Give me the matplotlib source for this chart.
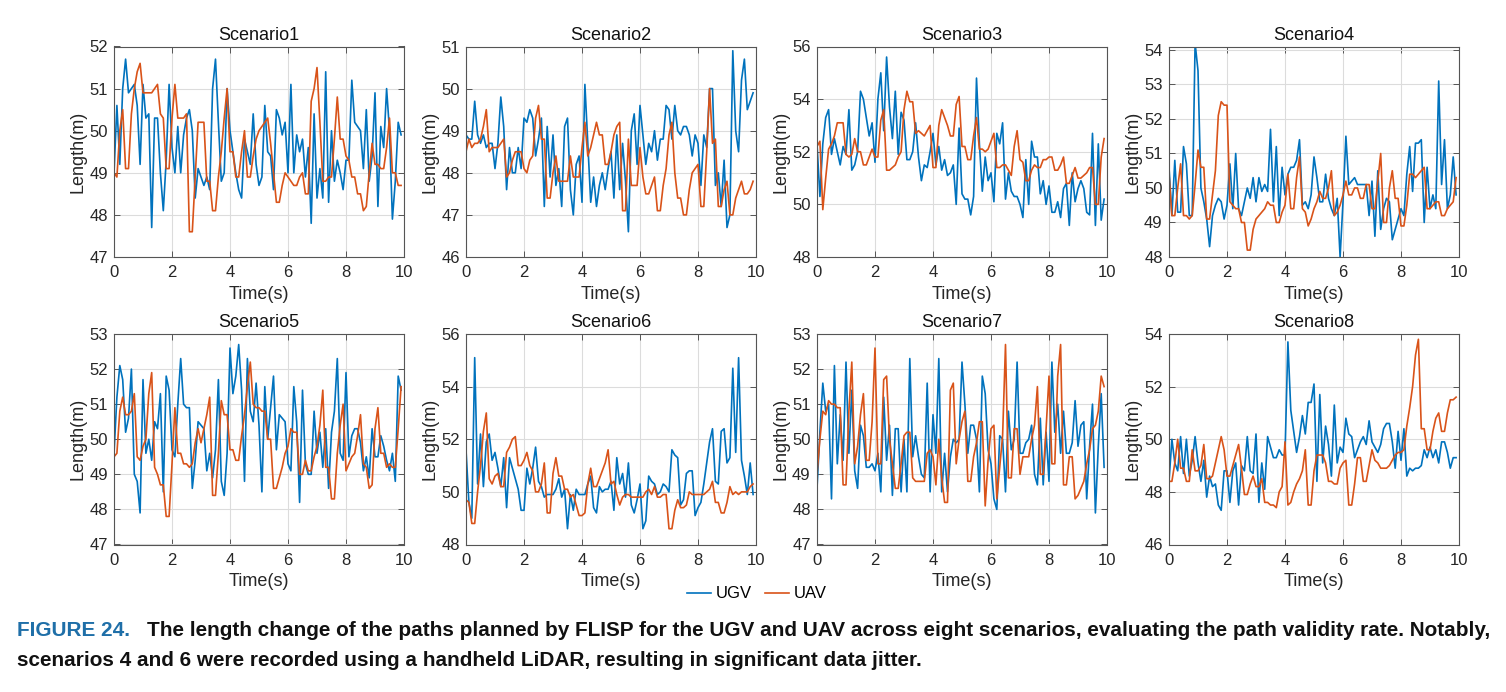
# -*- coding: utf-8 -*-
import numpy as np
import matplotlib
matplotlib.use('Agg')
import matplotlib.pyplot as plt

# path length (m) of UGV / UAV, sampled every 0.1 s
ugv_s1 = [49.0, 50.6, 49.2, 51.0, 51.7, 50.9, 51.0, 51.1, 50.6, 49.2,
          51.1, 50.3, 50.4, 47.7, 50.3, 50.3, 49.0, 48.1, 49.3, 51.1,
          49.6, 49.0, 50.1, 49.0, 49.9, 50.3, 50.5, 50.0, 48.4, 49.1,
          48.9, 48.7, 48.9, 48.6, 51.0, 51.7, 50.2, 48.8, 49.0, 51.0,
          50.0, 49.5, 49.0, 48.6, 48.4, 49.8, 49.5, 49.2, 50.4, 49.2,
          48.7, 48.9, 50.6, 49.5, 49.4, 48.6, 50.5, 50.3, 49.9, 50.2,
          49.0, 51.1, 49.0, 49.9, 49.5, 49.8, 48.9, 49.6, 47.8, 50.4,
          48.4, 49.1, 48.4, 51.4, 48.3, 50.0, 48.8, 49.3, 49.0, 48.6,
          49.3, 49.3, 51.2, 50.2, 50.1, 50.0, 49.1, 50.5, 48.8, 49.4,
          50.9, 48.2, 50.1, 49.6, 51.0, 50.0, 47.9, 48.8, 50.2, 49.9]
uav_s1 = [49.0, 48.9, 50.0, 50.5, 49.1, 49.1, 50.4, 51.0, 51.4, 51.6,
          50.9, 50.9, 50.9, 50.9, 51.0, 51.1, 50.4, 50.3, 49.1, 49.1,
          50.3, 51.1, 50.3, 50.3, 50.3, 50.4, 47.6, 47.6, 48.9, 50.2,
          50.2, 50.2, 48.8, 48.8, 48.1, 48.1, 48.9, 49.5, 50.3, 51.0,
          49.5, 49.5, 48.9, 48.9, 49.5, 50.0, 48.9, 48.9, 49.4, 49.8,
          50.0, 50.1, 50.2, 50.3, 49.7, 49.0, 48.3, 48.3, 48.7, 49.0,
          48.9, 48.8, 48.7, 48.7, 48.9, 49.0, 48.5, 48.5, 50.7, 51.0,
          51.5, 50.2, 48.8, 48.8, 48.9, 48.9, 49.8, 50.8, 49.8, 49.8,
          49.4, 49.3, 48.9, 48.9, 48.5, 48.5, 48.1, 48.2, 49.0, 49.7,
          49.2, 49.2, 49.1, 49.1, 49.6, 50.3, 49.0, 49.0, 48.7, 48.7]

ugv_s2 = [48.9, 48.8, 48.8, 49.7, 48.9, 48.7, 48.9, 48.6, 48.7, 48.7,
          48.1, 48.7, 49.8, 49.1, 47.6, 48.6, 48.0, 48.0, 48.6, 48.1,
          49.3, 49.2, 49.5, 49.3, 48.4, 48.8, 49.3, 47.2, 49.1, 47.9,
          48.9, 47.7, 48.1, 47.2, 49.1, 49.3, 47.6, 47.0, 48.2, 48.4,
          47.3, 50.1, 48.7, 47.3, 47.9, 47.2, 47.7, 48.0, 47.6, 48.1,
          48.5, 47.4, 48.9, 47.6, 48.7, 47.8, 46.6, 49.0, 49.4, 48.2,
          49.6, 48.9, 48.2, 48.7, 48.5, 49.0, 48.3, 48.8, 48.8, 49.6,
          49.5, 48.8, 49.6, 49.0, 48.9, 49.1, 49.1, 48.9, 48.4, 48.9,
          48.7, 47.7, 48.9, 48.6, 50.0, 50.0, 47.7, 48.0, 47.2, 48.3,
          46.7, 47.0, 50.9, 49.0, 48.5, 50.2, 50.7, 49.5, 49.7, 49.9]
uav_s2 = [48.5, 48.8, 48.6, 48.7, 48.7, 48.8, 49.1, 49.5, 48.5, 48.6,
          48.6, 48.6, 48.7, 48.8, 47.9, 48.0, 48.3, 48.5, 48.5, 48.5,
          48.1, 48.0, 48.3, 48.4, 49.3, 49.6, 48.8, 48.8, 47.4, 47.4,
          48.0, 48.4, 47.8, 47.8, 47.8, 47.8, 48.4, 47.9, 47.9, 47.9,
          48.6, 49.2, 48.4, 48.6, 48.9, 49.2, 48.9, 48.9, 48.2, 48.2,
          48.5, 48.9, 49.1, 49.2, 47.1, 47.1, 48.8, 47.7, 47.7, 47.7,
          48.6, 47.9, 47.5, 47.5, 47.7, 47.9, 47.1, 47.1, 47.7, 48.1,
          48.9, 49.2, 48.0, 47.4, 47.4, 47.0, 47.0, 47.6, 48.0, 48.1,
          48.2, 47.2, 47.2, 48.5, 50.0, 48.7, 48.8, 47.2, 47.2, 47.6,
          47.8, 47.0, 47.0, 47.4, 47.6, 47.8, 47.5, 47.5, 47.6, 47.8]

ugv_s3 = [52.3, 50.3, 52.3, 53.3, 53.6, 51.9, 52.5, 52.0, 51.5, 52.2,
          51.9, 53.6, 51.3, 51.5, 52.0, 54.3, 54.0, 53.3, 52.6, 53.1,
          51.6, 54.0, 55.0, 52.8, 55.6, 53.7, 52.5, 54.3, 51.9, 53.5,
          53.2, 51.7, 51.7, 52.0, 53.1, 51.8, 50.9, 51.5, 51.4, 52.0,
          52.7, 51.5, 52.2, 51.3, 51.7, 51.1, 51.2, 51.5, 50.0, 52.9,
          50.4, 50.2, 50.2, 49.6, 50.3, 54.8, 52.3, 50.5, 51.8, 50.9,
          51.2, 50.1, 52.7, 52.3, 53.1, 50.2, 51.2, 50.5, 50.3, 50.3,
          50.0, 49.5, 51.7, 50.0, 52.4, 51.8, 51.8, 50.4, 50.9, 50.0,
          50.7, 49.7, 49.7, 50.1, 49.5, 50.6, 50.8, 49.2, 51.2, 50.1,
          50.6, 50.9, 50.6, 49.7, 49.6, 52.7, 49.2, 52.3, 49.4, 50.2]
uav_s3 = [52.2, 52.4, 49.8, 51.0, 52.1, 52.3, 52.6, 53.1, 53.1, 53.1,
          51.9, 51.8, 51.9, 52.5, 52.0, 52.0, 51.5, 51.5, 51.8, 52.1,
          51.8, 51.8, 53.2, 53.6, 51.3, 51.3, 51.4, 51.5, 51.8, 52.0,
          53.6, 54.3, 53.9, 53.9, 52.7, 52.8, 52.7, 52.6, 52.8, 53.0,
          51.4, 51.4, 53.0, 53.6, 53.3, 53.0, 52.6, 52.6, 53.8, 54.1,
          52.2, 52.2, 51.7, 51.7, 52.6, 53.3, 52.1, 52.1, 52.0, 52.1,
          52.4, 52.7, 51.4, 51.4, 51.5, 51.5, 51.3, 51.1, 52.2, 52.8,
          51.7, 51.6, 50.9, 50.9, 51.3, 51.5, 51.4, 51.4, 51.7, 51.7,
          51.8, 51.8, 51.3, 51.3, 51.5, 51.8, 50.8, 50.8, 51.1, 51.4,
          51.0, 51.0, 51.1, 51.2, 51.4, 51.4, 50.0, 50.0, 51.8, 52.5]

ugv_s4 = [50.6, 49.2, 50.8, 49.3, 49.3, 51.2, 50.7, 49.2, 49.2, 54.2,
          53.4, 50.0, 49.6, 49.1, 48.3, 49.2, 49.5, 49.7, 49.6, 49.1,
          49.5, 50.7, 49.4, 51.0, 49.4, 49.2, 49.6, 50.0, 49.7, 50.3,
          49.6, 50.3, 49.9, 50.1, 49.9, 51.7, 49.6, 51.2, 49.2, 50.6,
          49.8, 50.4, 50.6, 50.6, 50.8, 51.4, 49.5, 49.6, 49.4, 49.8,
          50.9, 50.3, 49.6, 49.6, 50.4, 49.7, 49.4, 49.2, 49.7, 48.0,
          49.6, 51.5, 50.1, 50.2, 50.3, 50.1, 50.1, 50.1, 50.1, 49.2,
          50.2, 48.6, 50.5, 48.8, 49.4, 49.7, 49.6, 48.5, 48.8, 49.1,
          49.4, 49.2, 50.4, 51.2, 49.9, 51.3, 51.3, 51.4, 49.0, 50.6,
          49.4, 49.8, 49.4, 53.1, 50.1, 51.4, 49.4, 49.8, 50.9, 49.8]
uav_s4 = [50.4, 49.2, 49.2, 50.0, 50.7, 49.2, 49.2, 49.1, 49.2, 50.1,
          51.1, 50.6, 50.6, 49.1, 49.1, 49.8, 50.5, 52.1, 52.5, 52.4,
          52.4, 49.6, 49.5, 49.4, 49.4, 49.0, 49.0, 48.2, 48.2, 48.8,
          49.1, 49.2, 49.3, 49.4, 49.6, 49.5, 49.5, 49.0, 49.0, 49.3,
          49.5, 50.4, 49.4, 49.4, 50.3, 50.9, 49.4, 49.3, 48.9, 49.1,
          49.4, 49.6, 49.9, 49.7, 49.7, 50.0, 50.5, 49.2, 49.3, 49.5,
          49.8, 50.2, 49.8, 49.8, 50.0, 50.0, 49.7, 49.7, 50.1, 50.1,
          49.4, 49.4, 50.2, 51.0, 49.0, 49.0, 50.0, 50.5, 49.7, 49.7,
          48.9, 48.9, 49.5, 50.4, 50.4, 50.3, 50.4, 50.5, 50.6, 49.4,
          49.4, 49.5, 49.6, 49.6, 49.2, 49.2, 49.4, 49.5, 49.6, 50.3]

ugv_s5 = [49.6, 51.2, 52.1, 51.7, 50.2, 50.6, 52.0, 49.0, 48.8, 47.9,
          51.7, 49.6, 50.0, 49.4, 50.5, 50.3, 51.3, 48.5, 51.8, 51.4,
          49.7, 49.5, 51.0, 52.3, 51.0, 50.9, 50.9, 48.6, 49.4, 50.5,
          50.4, 50.3, 49.1, 49.6, 48.9, 49.7, 51.7, 48.8, 48.4, 49.6,
          52.6, 51.3, 51.8, 52.7, 51.4, 48.8, 52.3, 50.8, 50.5, 51.6,
          50.4, 48.5, 51.5, 50.0, 50.9, 51.8, 49.7, 50.7, 50.6, 50.5,
          49.3, 49.1, 51.5, 50.5, 48.2, 51.4, 49.3, 49.0, 49.0, 50.8,
          49.6, 50.2, 49.2, 50.3, 48.6, 50.2, 50.8, 52.3, 49.6, 49.4,
          51.9, 49.5, 50.1, 50.3, 50.3, 49.9, 49.1, 49.5, 48.9, 50.3,
          49.5, 49.5, 50.1, 49.8, 49.4, 49.1, 49.6, 48.8, 51.8, 51.4]
uav_s5 = [49.5, 49.6, 50.8, 51.2, 50.7, 50.7, 50.8, 51.3, 49.5, 49.4,
          49.8, 50.0, 51.3, 51.9, 49.2, 49.0, 48.7, 48.7, 47.8, 47.8,
          49.3, 50.9, 49.6, 49.6, 49.3, 49.3, 49.2, 49.3, 49.9, 50.3,
          49.9, 50.3, 50.7, 51.2, 48.4, 48.4, 49.6, 51.1, 50.7, 50.7,
          49.7, 49.7, 49.4, 49.4, 50.1, 50.7, 51.5, 52.2, 51.0, 50.9,
          50.9, 50.8, 50.8, 50.0, 50.0, 48.6, 48.6, 48.9, 49.2, 49.6,
          49.8, 50.3, 50.2, 50.2, 49.0, 49.0, 49.4, 49.1, 49.1, 49.5,
          49.8, 50.4, 51.4, 49.2, 49.2, 48.3, 48.3, 49.6, 50.4, 51.0,
          49.1, 49.3, 49.5, 49.6, 50.1, 50.7, 49.3, 49.2, 48.6, 48.7,
          50.3, 50.9, 49.6, 49.6, 49.2, 49.3, 49.2, 49.2, 50.3, 51.5]

ugv_s6 = [51.6, 49.6, 49.0, 55.1, 50.3, 52.2, 50.2, 51.9, 52.2, 51.2,
          51.5, 50.9, 50.2, 51.3, 49.4, 51.3, 50.9, 50.5, 50.1, 49.3,
          49.3, 50.9, 50.3, 50.9, 51.7, 50.4, 50.2, 49.8, 49.9, 49.9,
          49.9, 50.1, 50.5, 49.8, 50.1, 48.6, 49.9, 49.3, 50.1, 49.9,
          49.9, 49.9, 50.3, 50.6, 49.4, 49.2, 50.2, 50.0, 50.1, 50.1,
          50.4, 49.3, 51.3, 50.3, 50.7, 49.8, 51.1, 49.5, 49.2, 49.7,
          50.3, 48.6, 48.9, 50.6, 50.4, 50.3, 49.9, 50.0, 50.3, 50.2,
          50.0, 51.6, 51.4, 51.3, 49.5, 49.7, 50.7, 50.8, 50.8, 49.1,
          49.4, 49.6, 50.3, 51.1, 51.9, 52.4, 50.4, 50.3, 52.3, 52.4,
          51.1, 51.3, 54.7, 51.5, 55.1, 51.2, 50.6, 49.9, 51.1, 49.9]
uav_s6 = [49.7, 49.6, 48.8, 48.8, 50.0, 51.0, 52.3, 53.0, 50.5, 50.3,
          50.6, 50.7, 50.2, 50.2, 51.5, 51.7, 52.0, 52.1, 51.0, 51.0,
          51.2, 51.5, 51.0, 50.8, 50.0, 50.0, 50.3, 51.1, 49.2, 49.2,
          50.7, 51.3, 50.6, 50.6, 50.1, 50.1, 49.8, 49.9, 49.5, 49.1,
          49.1, 49.2, 50.3, 50.9, 50.2, 50.2, 50.5, 50.8, 51.1, 51.6,
          50.3, 50.4, 49.9, 49.5, 49.8, 49.9, 49.9, 49.8, 49.8, 49.8,
          49.8, 49.8, 50.0, 50.1, 49.9, 50.2, 49.8, 49.8, 49.9, 49.9,
          48.6, 48.6, 49.3, 49.7, 49.4, 49.4, 49.5, 50.0, 49.9, 49.9,
          49.9, 49.9, 49.9, 50.0, 50.1, 50.4, 49.6, 49.6, 49.2, 49.2,
          49.6, 50.2, 49.9, 50.0, 49.9, 50.0, 50.0, 50.0, 50.2, 50.3]

ugv_s7 = [48.6, 50.2, 51.6, 50.8, 51.0, 48.3, 52.1, 49.3, 50.7, 49.4,
          52.2, 49.6, 51.4, 49.1, 48.6, 50.4, 50.1, 49.2, 49.2, 49.3,
          49.1, 49.6, 48.5, 51.2, 49.4, 50.4, 48.4, 50.3, 50.3, 48.5,
          50.0, 48.5, 52.3, 49.5, 50.1, 49.5, 49.0, 48.9, 51.6, 48.5,
          50.7, 49.6, 52.3, 48.5, 49.6, 48.5, 49.5, 50.0, 49.9, 50.0,
          52.2, 51.0, 49.6, 50.4, 50.4, 50.0, 48.5, 51.8, 51.3, 49.7,
          49.3, 48.3, 48.0, 50.1, 50.0, 48.5, 50.8, 49.7, 50.0, 52.2,
          49.6, 49.6, 49.9, 50.0, 50.4, 49.0, 48.7, 50.6, 48.7, 50.2,
          48.8, 52.2, 50.2, 51.0, 49.6, 50.8, 49.6, 49.6, 49.9, 51.1,
          49.8, 50.4, 50.5, 48.3, 49.8, 51.0, 47.9, 49.8, 51.3, 49.2]
uav_s7 = [49.0, 50.0, 50.8, 50.7, 51.1, 51.0, 51.0, 50.9, 50.9, 48.7,
          48.7, 50.8, 52.2, 49.3, 49.8, 50.7, 51.3, 49.4, 49.4, 50.5,
          52.6, 49.3, 49.3, 51.7, 51.8, 50.0, 49.3, 48.6, 48.6, 49.3,
          50.1, 50.2, 50.2, 48.9, 48.8, 48.8, 48.8, 48.8, 49.6, 49.7,
          49.5, 48.7, 50.0, 48.9, 48.2, 48.2, 51.4, 51.6, 49.3, 50.0,
          50.5, 50.8, 48.8, 48.8, 49.5, 49.9, 50.5, 50.5, 48.1, 49.4,
          50.3, 50.4, 48.3, 49.2, 50.1, 52.7, 48.9, 48.9, 50.3, 50.3,
          49.0, 49.5, 49.5, 49.5, 50.0, 50.4, 51.5, 49.0, 49.0, 50.3,
          51.8, 49.3, 49.3, 51.8, 52.7, 48.7, 48.7, 49.5, 49.5, 48.3,
          48.4, 48.6, 48.8, 49.3, 49.7, 50.3, 50.4, 50.8, 51.8, 51.5]

ugv_s8 = [48.4, 50.0, 49.1, 48.8, 50.1, 48.7, 50.0, 48.6, 49.2, 50.1,
          49.1, 48.4, 49.2, 47.8, 48.6, 48.2, 48.3, 47.5, 47.3, 48.8,
          48.8, 47.6, 48.8, 49.1, 47.5, 49.0, 48.8, 50.1, 48.8, 48.7,
          50.2, 47.6, 49.1, 48.1, 50.1, 49.7, 49.3, 49.3, 49.6, 49.4,
          49.4, 53.7, 51.1, 50.3, 49.5, 50.1, 50.9, 50.2, 51.4, 51.4,
          52.1, 48.4, 51.7, 49.1, 50.5, 49.8, 48.6, 51.3, 49.1, 49.7,
          49.5, 50.8, 50.2, 50.1, 49.3, 49.6, 49.9, 50.1, 49.8, 50.7,
          49.9, 49.7, 49.5, 49.8, 50.4, 50.6, 50.6, 49.9, 48.9, 50.3,
          49.2, 50.4, 48.6, 48.9, 48.8, 48.9, 48.9, 49.0, 49.6, 49.3,
          49.7, 49.3, 49.6, 49.1, 49.9, 49.9, 49.5, 48.9, 49.3, 49.3]
uav_s8 = [48.4, 48.4, 49.1, 50.0, 48.9, 48.9, 48.4, 48.4, 49.6, 48.8,
          48.8, 49.0, 49.8, 48.5, 48.5, 48.6, 49.1, 49.6, 50.1, 49.6,
          48.6, 48.6, 49.0, 49.4, 49.8, 48.9, 47.9, 47.9, 48.3, 48.6,
          48.2, 48.2, 48.5, 47.6, 47.6, 47.5, 47.5, 47.4, 48.0, 48.2,
          49.9, 47.5, 47.6, 48.0, 48.3, 48.5, 48.8, 49.6, 47.5, 47.5,
          48.8, 49.4, 49.4, 49.4, 49.1, 48.4, 48.4, 48.3, 48.3, 48.9,
          49.1, 49.2, 47.5, 47.5, 48.3, 49.3, 49.3, 48.4, 48.4, 49.0,
          49.6, 49.2, 49.1, 48.9, 48.9, 48.9, 49.0, 49.2, 49.4, 49.5,
          49.5, 49.6, 50.5, 51.2, 52.0, 53.2, 53.8, 50.4, 50.4, 49.6,
          49.6, 50.3, 50.8, 51.0, 50.3, 50.3, 51.0, 51.5, 51.5, 51.6]

titles = ['Scenario1', 'Scenario2', 'Scenario3', 'Scenario4',
          'Scenario5', 'Scenario6', 'Scenario7', 'Scenario8']
ugv_all = [ugv_s1, ugv_s2, ugv_s3, ugv_s4, ugv_s5, ugv_s6, ugv_s7, ugv_s8]
uav_all = [uav_s1, uav_s2, uav_s3, uav_s4, uav_s5, uav_s6, uav_s7, uav_s8]
ylims = [(47, 52), (46, 51), (48, 56), (48, 54.1),
         (47, 53), (48, 56), (47, 53), (46, 54)]
yticks = [[47, 48, 49, 50, 51, 52], [46, 47, 48, 49, 50, 51],
          [48, 50, 52, 54, 56], [48, 49, 50, 51, 52, 53, 54],
          [47, 48, 49, 50, 51, 52, 53], [48, 50, 52, 54, 56],
          [47, 48, 49, 50, 51, 52, 53], [46, 48, 50, 52, 54]]
legend_names = ['UGV', 'UAV']
caption_head = 'FIGURE 24.'
caption_l1 = ('The length change of the paths planned by FLISP for the UGV and UAV across '
              'eight scenarios, evaluating the path validity rate. Notably,')
caption_l2 = 'scenarios 4 and 6 were recorded using a handheld LiDAR, resulting in significant data jitter.'

plt.rcParams['font.family'] = ['Liberation Sans', 'DejaVu Sans']

W, H = 1506, 692
fig = plt.figure(figsize=(W / 100, H / 100), dpi=100)

col_left = [114, 466, 817, 1169]
row_top = [46.5, 334]
ax_w, ax_h = 290, 210.5

c_ugv = '#0072BD'
c_uav = '#D95319'

for i in range(8):
    r, c = divmod(i, 4)
    ax = fig.add_axes([col_left[c] / W, 1 - (row_top[r] + ax_h) / H, ax_w / W, ax_h / H])
    t = np.arange(len(ugv_all[i])) * 0.1
    l1, = ax.plot(t, ugv_all[i], color=c_ugv, lw=1.2)
    l2, = ax.plot(np.arange(len(uav_all[i])) * 0.1, uav_all[i], color=c_uav, lw=1.2)
    ax.set_xlim(0, 10)
    ax.set_ylim(*ylims[i])
    ax.set_xticks([0, 2, 4, 6, 8, 10])
    ax.set_yticks(yticks[i])
    ax.grid(True, color='#dcdcdc', lw=0.8)
    ax.set_axisbelow(True)
    for s in ax.spines.values():
        s.set_color('#555555')
        s.set_linewidth(0.8)
    ax.tick_params(direction='in', top=True, right=True, length=4, width=0.7,
                   colors='#555555', labelcolor='#262626', labelsize=12)
    ax.tick_params(axis='y', pad=4.5)
    ax.tick_params(axis='x', pad=6)
    ax.set_title(titles[i], fontsize=13, color='#111111', pad=5)
    ax.set_xlabel('Time(s)', fontsize=13, color='#262626', labelpad=4)
    ax.set_ylabel('Length(m)', fontsize=13, color='#262626', labelpad=2)
    if i == 0:
        handles = [l1, l2]

fig.legend(handles, legend_names, loc='center', bbox_to_anchor=(757 / W, 1 - 594 / H),
           ncol=2, frameon=False, fontsize=12, handlelength=1.4, handletextpad=0.3,
           columnspacing=0.8)

# caption, sized so the first line ends where the reference does
cap_font = ['Liberation Sans', 'DejaVu Sans']
y1 = 1 - 631 / H
y2 = 1 - 661 / H
fs = 14.8
head = fig.text(17 / W, y1, caption_head, color='#1f6fa8', fontsize=fs, fontweight='bold',
                family=cap_font, va='center')
body1 = fig.text(147 / W, y1, caption_l1, color='#111111', fontsize=fs, fontweight='bold',
                 family=cap_font, va='center')
body2 = fig.text(17 / W, y2, caption_l2, color='#111111', fontsize=fs, fontweight='bold',
                 family=cap_font, va='center')
for _ in range(3):
    fig.canvas.draw()
    bb = body1.get_window_extent()
    fs = fs * (1490 - 147) / bb.width
    for tx in (head, body1, body2):
        tx.set_fontsize(fs)

fig.savefig('out.png', dpi=100)
